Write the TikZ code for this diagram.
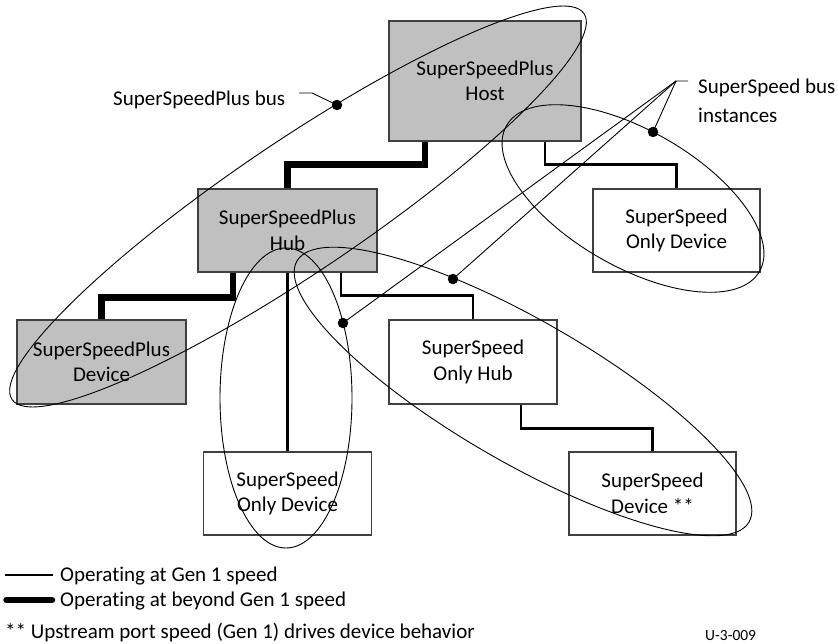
\documentclass[tikz,border=0pt]{standalone}
\usepackage{fontspec}
\setmainfont{Carlito}[Ligatures=NoCommon]
\definecolor{boxfill}{RGB}{192,192,192}
\definecolor{boxline}{RGB}{64,64,64}
\begin{document}
\begin{tikzpicture}[x=1pt,y=-1pt,
  font=\fontsize{21}{25.5}\selectfont,
  devbox/.style={draw=boxline, line width=1.2pt, inner sep=0pt, align=center},
  plusbox/.style={devbox, fill=boxfill},
  gen1/.style={line width=2.6pt},
  genplus/.style={line width=6.5pt},
  busring/.style={line width=0.9pt},
  leader/.style={line width=0.9pt},
  busdot/.style={circle, fill=black, inner sep=0pt, minimum size=10.5pt},
  lbl/.style={inner sep=0pt, anchor=base west}]
\useasboundingbox (0,0) rectangle (838,644);

% devices
\node[plusbox, minimum width=192pt, minimum height=120pt] (host) at (485,81) {SuperSpeedPlus\\Host};
\node[plusbox, minimum width=179pt, minimum height=83pt] (hub) at (287.5,230.5) {SuperSpeedPlus\\Hub};
\node[plusbox, minimum width=169pt, minimum height=84pt] (sspdev) at (101.5,362) {SuperSpeedPlus\\Device};
\node[devbox, minimum width=167pt, minimum height=83pt] (ssodev1) at (676.5,230.5) {SuperSpeed\\Only Device};
\node[devbox, minimum width=168pt, minimum height=84pt] (ssohub) at (473,362) {SuperSpeed\\Only Hub};
\node[devbox, minimum width=168pt, minimum height=83pt] (ssodev2) at (287.5,493.5) {SuperSpeed\\Only Device};
\node[devbox, minimum width=167pt, minimum height=83pt] (ssdev) at (652.5,493.5) {SuperSpeed\\Device **};

% links
\draw[genplus] ([xshift=-60pt]host.south) -- ++(0,23) -| (hub.north);
\draw[gen1] ([xshift=60pt]host.south) -- ++(0,23) -| (ssodev1.north);
\draw[genplus] ([xshift=-54.5pt]hub.south) -- ++(0,25) -| (sspdev.north);
\draw[gen1] (hub.south) -- (ssodev2.north);
\draw[gen1] ([xshift=53.5pt]hub.south) -- ++(0,23) -| (ssohub.north);
\draw[gen1] ([xshift=48pt]ssohub.south) -- ++(0,24) -| (ssdev.north);

% bus rings
\draw[busring, rotate around={34:(298,206.5)}] (298,206.5) ellipse (345 and 65.5);
\draw[busring, rotate around={-30:(633,198.5)}] (633,198.5) ellipse (146 and 68);
\draw[busring] (286,398) ellipse (66 and 150);
\draw[busring, rotate around={-30:(523,391.5)}] (523,391.5) ellipse (261 and 71);

% dots
\node[busdot] (dotA) at (337,105) {};
\node[busdot] (dotB) at (653,132) {};
\node[busdot] (dotC) at (453,279) {};
\node[busdot] (dotD) at (343,323) {};

% labels
\node[lbl] (lblplus) at (113,106) {SuperSpeedPlus bus};
\coordinate (tailA) at (299,93);
\coordinate (kneeA) at (312,93);
\draw[leader] (tailA) -- (kneeA) -- (dotA.center);

\node[lbl] (lblss) at (698,94) {SuperSpeed bus};
\node[lbl] (lblss2) at (698,123) {instances};
\coordinate (tailB) at (688,81);
\coordinate (apexB) at (676,81);
\draw[leader] (tailB) -- (apexB) -- (dotB.center);
\draw[leader] (apexB) -- (dotC.center);
\draw[leader] (apexB) -- (dotD.center);

% legend
\coordinate (lg1a) at (5,575);
\coordinate (lg1b) at (53,575);
\coordinate (lg2a) at (6.5,600);
\coordinate (lg2b) at (52,600);
\draw[line width=2pt] (lg1a) -- (lg1b);
\draw[genplus, line cap=round] (lg2a) -- (lg2b);
\node[lbl] (lgt1) at (60,581.5) {Operat\kern0pt ing at Gen 1 speed};
\node[lbl] (lgt2) at (60,606.5) {Operat\kern0pt ing at beyond Gen 1 speed};
\node[lbl] (note) at (5,638) {** Upstream port speed (Gen 1) drives device behavior};
\node[lbl, font=\fontsize{15.5}{18}\selectfont] (figid) at (705,640) {U-3-009};
\end{tikzpicture}
\end{document}
